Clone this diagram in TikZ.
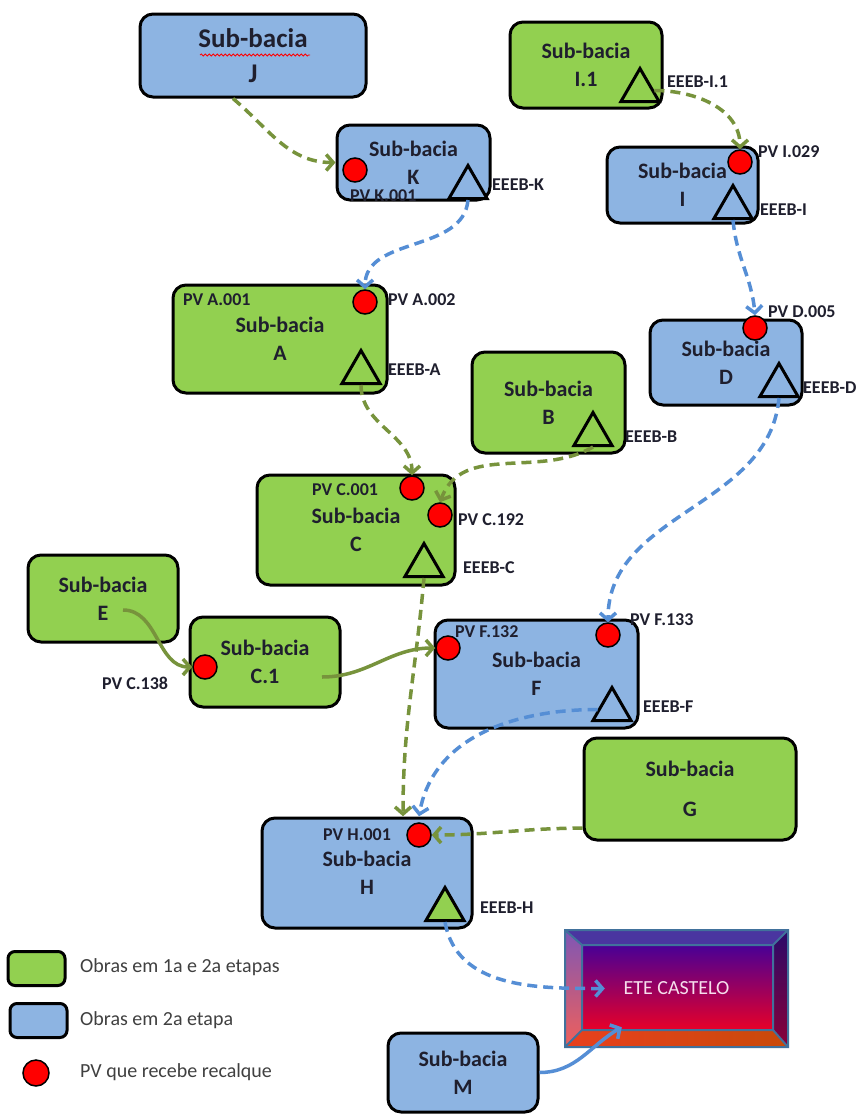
\documentclass[tikz,border=0pt]{standalone}
\usepackage{fontspec}
\setmainfont{Carlito}
\usepackage{tikz}
\usetikzlibrary{shapes.geometric, arrows.meta, positioning, decorations.pathmorphing}

\definecolor{verde}{HTML}{92D050}
\definecolor{azul}{HTML}{8DB4E2}
\definecolor{setaverde}{HTML}{77933C}
\definecolor{setaazul}{HTML}{558ED5}
\definecolor{texto}{HTML}{1F1F2E}
\definecolor{borda}{HTML}{41719C}
\definecolor{eteTopo}{RGB}{72,0,150}
\definecolor{eteMeio}{RGB}{150,0,115}
\definecolor{eteBase}{RGB}{232,0,40}
\definecolor{bevCima}{RGB}{74,53,160}
\definecolor{bevEsqA}{RGB}{126,86,182}
\definecolor{bevEsqB}{RGB}{240,96,90}
\definecolor{bevDirA}{RGB}{42,10,106}
\definecolor{bevDirB}{RGB}{138,0,56}
\definecolor{bevBaixoA}{RGB}{232,64,30}
\definecolor{bevBaixoB}{RGB}{200,74,10}
\definecolor{eteTexto}{RGB}{246,222,236}

\begin{document}
\begin{tikzpicture}[
      x=1pt, y=-1pt,
      sub/.style={
          rectangle,
          draw=black,
          line width=3pt,
          rounded corners=13pt,
          align=center,
          inner sep=0pt,
          text=texto,
          font=\bfseries\fontsize{22}{28}\selectfont
        },
      sub-green/.style={
          sub,
          fill=verde
        },
      sub-blue/.style={
          sub,
          fill=azul
        },
      pv/.style={
          circle,
          draw=black,
          line width=1.5pt,
          fill=red,
          minimum size=24pt,
          inner sep=0pt
        },
      eeeb/.style={
          regular polygon,
          regular polygon sides=3,
          draw=black,
          line width=3pt,
          minimum size=44pt,
          inner sep=0pt,
          anchor=south
        },
      lbl/.style={
          anchor=west,
          inner sep=0pt,
          text=texto,
          font=\bfseries\fontsize{18}{20}\selectfont
        },
      leg/.style={
          anchor=west,
          inner sep=0pt,
          text=black!75,
          font=\fontsize{20}{22}\selectfont
        },
      leg-box/.style={
          rectangle,
          draw=black,
          line width=3pt,
          rounded corners=7pt,
          minimum width=57pt,
          minimum height=34pt
        },
      dash-green/.style={
          draw=setaverde,
          line width=3.5pt,
          dash pattern=on 10pt off 6pt,
          -{Straight Barb[length=7pt,width=16pt]}
        },
      dash-blue/.style={
          dash-green,
          draw=setaazul
        },
      line-green/.style={
          draw=setaverde,
          line width=3.5pt,
          -{Straight Barb[length=7pt,width=16pt]}
        },
      line-blue/.style={
          line-green,
          draw=setaazul
        }
    ]

    \useasboundingbox[fill=white] (0,0) rectangle (865,1120);

    % Nodes
    \node[sub-blue, minimum width=226pt, minimum height=83pt, font=\bfseries\fontsize{27}{35}\selectfont] (J) at (253,55.5) {Sub-bacia\\J};
    \node[sub-blue, minimum width=153pt, minimum height=75pt] (K) at (413.5,162.5) {Sub-bacia\\K};
    \node[sub-green, minimum width=152pt, minimum height=86pt] (I1) at (586,65) {Sub-bacia\\I.1};
    \node[sub-blue, minimum width=151pt, minimum height=76pt] (I) at (682.5,185) {Sub-bacia\\I};
    \node[sub-green, minimum width=214pt, minimum height=108pt] (A) at (280,339) {Sub-bacia\\A};
    \node[sub-green, minimum width=153pt, minimum height=101pt] (B) at (548.5,402.5) {Sub-bacia\\B};
    \node[sub-blue, minimum width=152pt, minimum height=85pt] (D) at (726,362.5) {Sub-bacia\\D};
    \node[sub-green, minimum width=198pt, minimum height=110pt] (C) at (356,530) {Sub-bacia\\C};
    \node[sub-green, minimum width=150pt, minimum height=87pt] (E) at (103,598.5) {Sub-bacia\\E};
    \node[sub-green, minimum width=150pt, minimum height=90pt] (C1) at (265,662) {Sub-bacia\\C.1};
    \node[sub-blue, minimum width=203pt, minimum height=108pt] (F) at (536.5,674) {Sub-bacia\\F};
    \node[sub-green, minimum width=212pt, minimum height=102pt, font=\bfseries\fontsize{22}{40}\selectfont] (G) at (690,789) {Sub-bacia\\G};
    \node[sub-blue, minimum width=210pt, minimum height=110pt] (H) at (367,873) {Sub-bacia\\H};
    \node[sub-blue, minimum width=150pt, minimum height=79pt] (M) at (463,1072.5) {Sub-bacia\\M};

    % sublinhado do corretor
    \draw[red, line width=0.8pt, decorate, decoration={snake, amplitude=1pt, segment length=4pt}] (200,55) -- (310,55);

    % estacoes elevatorias
    \node[eeeb, fill=azul] (eeebK) at (468,200) {};
    \node[eeeb, fill=verde] (eeebI1) at (640,103) {};
    \node[eeeb, fill=azul] (eeebI) at (733,220) {};
    \node[eeeb, fill=verde] (eeebA) at (361,385) {};
    \node[eeeb, fill=verde] (eeebB) at (593,447) {};
    \node[eeeb, fill=azul] (eeebD) at (779,398) {};
    \node[eeeb, fill=verde] (eeebC) at (424,578) {};
    \node[eeeb, fill=azul] (eeebF) at (612,722) {};
    \node[eeeb, fill=verde] (eeebH) at (445,922) {};

    % PVs
    \node[pv] (pvK) at (355,170) {};
    \node[pv] (pvI) at (740,162) {};
    \node[pv] (pvA2) at (365,302) {};
    \node[pv] (pvD) at (755,328) {};
    \node[pv] (pvC1) at (412,488) {};
    \node[pv] (pvC2) at (440,515) {};
    \node[pv] (pvC138) at (205,667) {};
    \node[pv] (pvF1) at (448,648) {};
    \node[pv] (pvF2) at (608,635) {};
    \node[pv] (pvH) at (419,835) {};

    % rotulos
    \node[lbl] (tpvK) at (350,196) {PV K.001};
    \node[lbl] (teK) at (492,185) {EEEB-K};
    \node[lbl] (teI1) at (667,82) {EEEB-I.1};
    \node[lbl] (tpvI) at (758,152) {PV I.029};
    \node[lbl] (teI) at (760,210) {EEEB-I};
    \node[lbl] (tpvA1) at (183,300) {PV A.001};
    \node[lbl] (tpvA2) at (388,300) {PV A.002};
    \node[lbl] (teA) at (388,370) {EEEB-A};
    \node[lbl] (teB) at (625,437) {EEEB-B};
    \node[lbl] (tpvD) at (768,312) {PV D.005};
    \node[lbl] (teD) at (803,388) {EEEB-D};
    \node[lbl] (tpvC1) at (312,490) {PV C.001};
    \node[lbl] (tpvC2) at (458,520) {PV C.192};
    \node[lbl] (teC) at (463,568) {EEEB-C};
    \node[lbl] (tpvC138) at (102,683) {PV C.138};
    \node[lbl] (tpvF1) at (455,632) {PV F.132};
    \node[lbl] (tpvF2) at (630,620) {PV F.133};
    \node[lbl] (teF) at (643,707) {EEEB-F};
    \node[lbl] (tpvH) at (323,835) {PV H.001};
    \node[lbl] (teH) at (480,908) {EEEB-H};

    % ETE
    \shade[top color=eteTopo, middle color=eteMeio, bottom color=eteBase] (582,945) rectangle (773,1030);
    \fill[bevCima] (565,930) -- (788,930) -- (773,945) -- (582,945) -- cycle;
    \shade[top color=bevEsqA, bottom color=bevEsqB] (565,930) -- (582,945) -- (582,1030) -- (565,1047) -- cycle;
    \shade[top color=bevDirA, bottom color=bevDirB] (788,930) -- (773,945) -- (773,1030) -- (788,1047) -- cycle;
    \shade[left color=bevBaixoA, right color=bevBaixoB] (565,1047) -- (582,1030) -- (773,1030) -- (788,1047) -- cycle;
    \draw[borda, line width=2pt] (565,930) rectangle (788,1047) (582,945) rectangle (773,1030)
      (565,930) -- (582,945) (788,930) -- (773,945) (565,1047) -- (582,1030) (788,1047) -- (773,1030);
    \node[minimum width=223pt, minimum height=117pt, text=eteTexto, font=\fontsize{20}{24}\selectfont] (ete) at (676.5,988.5) {ETE CASTELO};

    % legenda
    \node[leg-box, fill=verde] (lgG) at (36.5,968.5) {};
    \node[leg-box, fill=azul] (lgB) at (38.5,1020.5) {};
    \node[pv, minimum size=26pt] (lgP) at (36,1073) {};
    \node[leg] (tlgG) at (80,967) {Obras em 1a e 2a etapas};
    \node[leg] (tlgB) at (80,1020) {Obras em 2a etapa};
    \node[leg] (tlgP) at (80,1072) {PV que recebe recalque};

    \coordinate (eOut) at (123,610);
    \coordinate (c1Out) at (322,677);

    % Arrows
    \draw[dash-green] (J.245) to[out=-40, in=180] (K.west);
    \draw[dash-blue] (eeebK.south) to[out=-95, in=90] (pvA2.north);
    \draw[dash-green] (eeebI1.east) to[out=0, in=90] (pvI.north);
    \draw[dash-blue] (eeebI.south) to[out=-85, in=95] (pvD.north);
    \draw[dash-green] (eeebA.south) to[out=-90, in=90] (pvC1.north);
    \draw[dash-green] (eeebB.south) to[out=-150, in=70] (pvC2.north);
    \draw[dash-blue] (eeebD.south) to[out=-95, in=90] (pvF2.north);
    \draw[dash-green] (eeebC.south) to[out=-95, in=90] ([xshift=-16pt,yshift=6pt]pvH.north);
    \draw[line-green] (eOut) to[out=0, in=180] (pvC138.west);
    \draw[line-green] (c1Out) to[out=0, in=180] (pvF1.west);
    \draw[dash-blue] (eeebF.west) to[out=180, in=80] ([yshift=6pt]pvH.north);
    \draw[dash-green] (G.200) to[out=180, in=0] (pvH.east);
    \draw[dash-blue] (eeebH.south) to[out=-80, in=180] ([xshift=40pt]ete.west);
    \draw[line-blue] (M.east) to[out=0, in=210] ([xshift=57pt,yshift=20pt]ete.south west);

  \end{tikzpicture}
\end{document}
